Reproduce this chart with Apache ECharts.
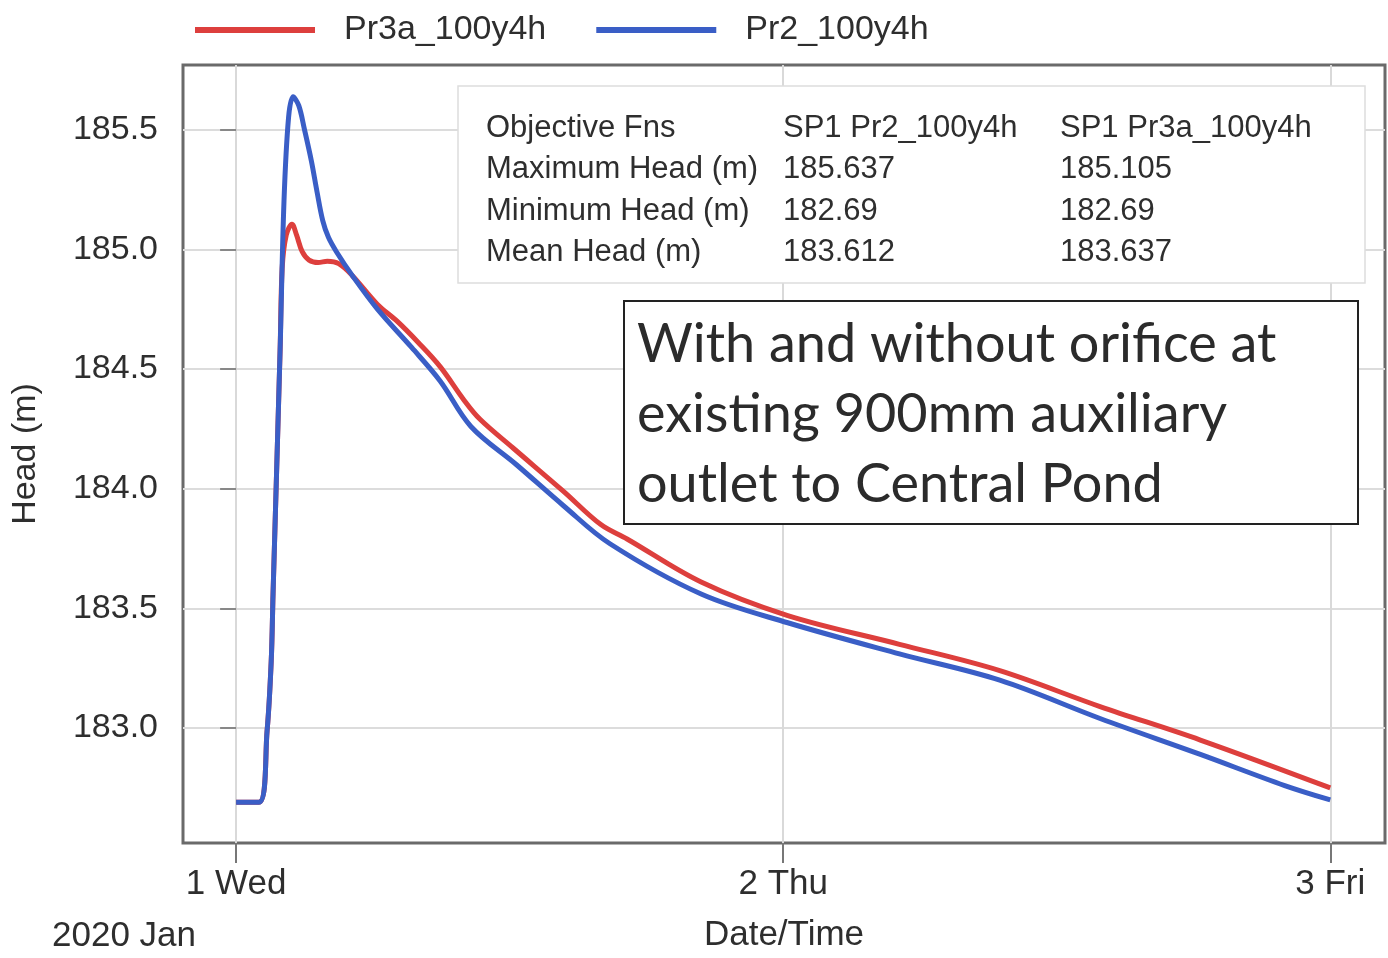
<!DOCTYPE html>
<html>
<head>
<meta charset="utf-8">
<title>Head (m) — Pr3a_100y4h vs Pr2_100y4h</title>
<script src="https://cdn.jsdelivr.net/npm/echarts@6/dist/echarts.min.js"></script>
<style>
  html, body { margin: 0; padding: 0; background: #fff; }
  #chart { width: 1388px; height: 958px; }
</style>
</head>
<body>
<div id="chart"></div>
<script>
// Time in hours from 2020-01-01 00:00, head in metres
const pr3aHours = [0, 1.0, 1.36, 1.54, 1.62, 1.93, 2.02, 2.2, 2.45, 2.65, 2.9, 3.2, 3.6, 4.0, 4.5, 5.1, 6.2, 7.06, 8.0, 8.95, 10.0, 10.7, 12.15, 14.35, 16.0, 17.15, 20.4, 24.2, 29.1, 33.5, 37.9, 42.3, 48.0];
const pr3aHead  = [182.69, 182.69, 182.99, 183.28, 183.56, 184.58, 184.92, 185.06, 185.105, 185.06, 184.99, 184.955, 184.945, 184.95, 184.94, 184.89, 184.77, 184.70, 184.61, 184.51, 184.37, 184.29, 184.17, 183.99, 183.85, 183.79, 183.61, 183.47, 183.35, 183.24, 183.09, 182.95, 182.75];

const pr2Hours = [0, 1.0, 1.36, 1.54, 1.62, 1.93, 2.1, 2.3, 2.5, 2.75, 3.0, 3.3, 3.55, 3.8, 4.05, 4.4, 5.1, 6.2, 7.7, 8.95, 10.3, 12.3, 14.35, 16.4, 20.4, 24.2, 29.1, 33.5, 37.9, 42.3, 46.0, 48.0];
const pr2Head  = [182.69, 182.69, 182.99, 183.28, 183.56, 184.58, 185.2, 185.55, 185.637, 185.6, 185.5, 185.37, 185.24, 185.12, 185.05, 184.99, 184.89, 184.75, 184.59, 184.45, 184.26, 184.10, 183.93, 183.77, 183.56, 183.44, 183.31, 183.20, 183.04, 182.89, 182.76, 182.70];

const seriesNames = ['Pr3a_100y4h', 'Pr2_100y4h'];
const dayTicks = [0, 24, 48];
const dayLabels = ['1 Wed', '2 Thu', '3 Fri'];
const headTicks = [183.0, 183.5, 184.0, 184.5, 185.0, 185.5];

// Objective-function summary
const statsHeader = ['Objective Fns', 'SP1 Pr2_100y4h', 'SP1 Pr3a_100y4h'];
const statsLabels = ['Maximum Head (m)', 'Minimum Head (m)', 'Mean Head (m)'];
const statsPr2 = ['185.637', '182.69', '183.612'];
const statsPr3a = ['185.105', '182.69', '183.637'];

const noteLines = ['With and without orifice at', 'existing 900mm auxiliary', 'outlet to Central Pond'];

const FONT = '"Liberation Sans", Arial, sans-serif';
const TXT = '#2e2e2e';

const zip = (xs, ys) => xs.map((x, i) => [x, ys[i]]);

const chart = echarts.init(document.getElementById('chart'), null, { renderer: 'canvas' });

// table cells as graphic texts
const colX = [486, 783, 1060];
const rowY = [128, 169, 211, 252];
const tableTexts = [];
statsHeader.forEach((t, c) => tableTexts.push({ text: t, x: colX[c], y: rowY[0] }));
statsLabels.forEach((t, r) => {
  tableTexts.push({ text: t, x: colX[0], y: rowY[r + 1] });
  tableTexts.push({ text: statsPr2[r], x: colX[1], y: rowY[r + 1] });
  tableTexts.push({ text: statsPr3a[r], x: colX[2], y: rowY[r + 1] });
});

const graphic = [
  {
    type: 'rect', z: 50,
    shape: { x: 458, y: 86, width: 907, height: 197 },
    style: { fill: '#ffffff', stroke: '#dddddd', lineWidth: 1.5 }
  },
  ...tableTexts.map(t => ({
    type: 'text', z: 51, x: t.x, y: t.y,
    style: { text: t.text, font: '31px ' + FONT, fill: TXT, verticalAlign: 'middle', align: 'left' }
  })),
  {
    type: 'rect', z: 50,
    shape: { x: 624, y: 301, width: 734, height: 223 },
    style: { fill: '#ffffff', stroke: '#222222', lineWidth: 2 }
  },
  ...noteLines.map((t, i) => ({
    type: 'text', z: 51, x: 637, y: 345 + i * 70,
    style: { text: t, font: '54px Lato, "Open Sans", sans-serif', fill: '#2b2b2b', verticalAlign: 'middle', align: 'left' }
  })),
  {
    type: 'text', x: 52, y: 936,
    style: { text: '2020 Jan', font: '35px ' + FONT, fill: TXT, verticalAlign: 'middle', align: 'left' }
  }
];

chart.setOption({
  animation: false,
  backgroundColor: '#ffffff',
  textStyle: { fontFamily: FONT },
  color: ['#dd3f3d', '#3a5ec6'],
  legend: {
    data: seriesNames,
    left: 190, top: 8,
    icon: 'rect',
    itemWidth: 120, itemHeight: 6,
    itemGap: 50,
    textStyle: { fontSize: 34, color: TXT, padding: [0, 0, 0, 24] }
  },
  grid: {
    left: 183, right: 3, top: 65, bottom: 108,
    show: true, borderColor: '#6a6a6a', borderWidth: 3, backgroundColor: '#ffffff'
  },
  xAxis: {
    type: 'value', min: -2.33, max: 50.4,
    name: 'Date/Time', nameLocation: 'middle', nameGap: 75,
    nameTextStyle: { fontSize: 35, color: TXT },
    axisLine: { show: false },
    axisTick: { show: true, customValues: dayTicks, length: 20, lineStyle: { color: '#777', width: 2 } },
    axisLabel: {
      customValues: dayTicks, margin: 24, fontSize: 35, color: TXT,
      formatter: v => dayLabels[dayTicks.indexOf(v)] || ''
    },
    splitLine: { show: true, lineStyle: { color: '#d9d9d9', width: 2 } }
  },
  yAxis: {
    type: 'value', min: 182.52, max: 185.77,
    name: 'Head (m)', nameLocation: 'middle', nameRotate: 90, nameGap: 140,
    nameTextStyle: { fontSize: 34, color: TXT },
    axisLine: { show: false },
    axisTick: { show: true, customValues: headTicks, length: 16, lineStyle: { color: '#888', width: 2 } },
    axisLabel: {
      customValues: headTicks, margin: 25, fontSize: 34, color: TXT,
      formatter: v => v.toFixed(1)
    },
    splitLine: { show: true, lineStyle: { color: '#dcdcdc', width: 2 } }
  },
  graphic,
  series: [
    {
      name: seriesNames[0], type: 'line', data: zip(pr3aHours, pr3aHead),
      showSymbol: false, smooth: 0.35,
      lineStyle: { width: 5, color: '#dd3f3d' }, itemStyle: { color: '#dd3f3d' }, z: 3
    },
    {
      name: seriesNames[1], type: 'line', data: zip(pr2Hours, pr2Head),
      showSymbol: false, smooth: 0.35,
      lineStyle: { width: 5, color: '#3a5ec6' }, itemStyle: { color: '#3a5ec6' }, z: 4
    }
  ]
});
</script>
</body>
</html>
